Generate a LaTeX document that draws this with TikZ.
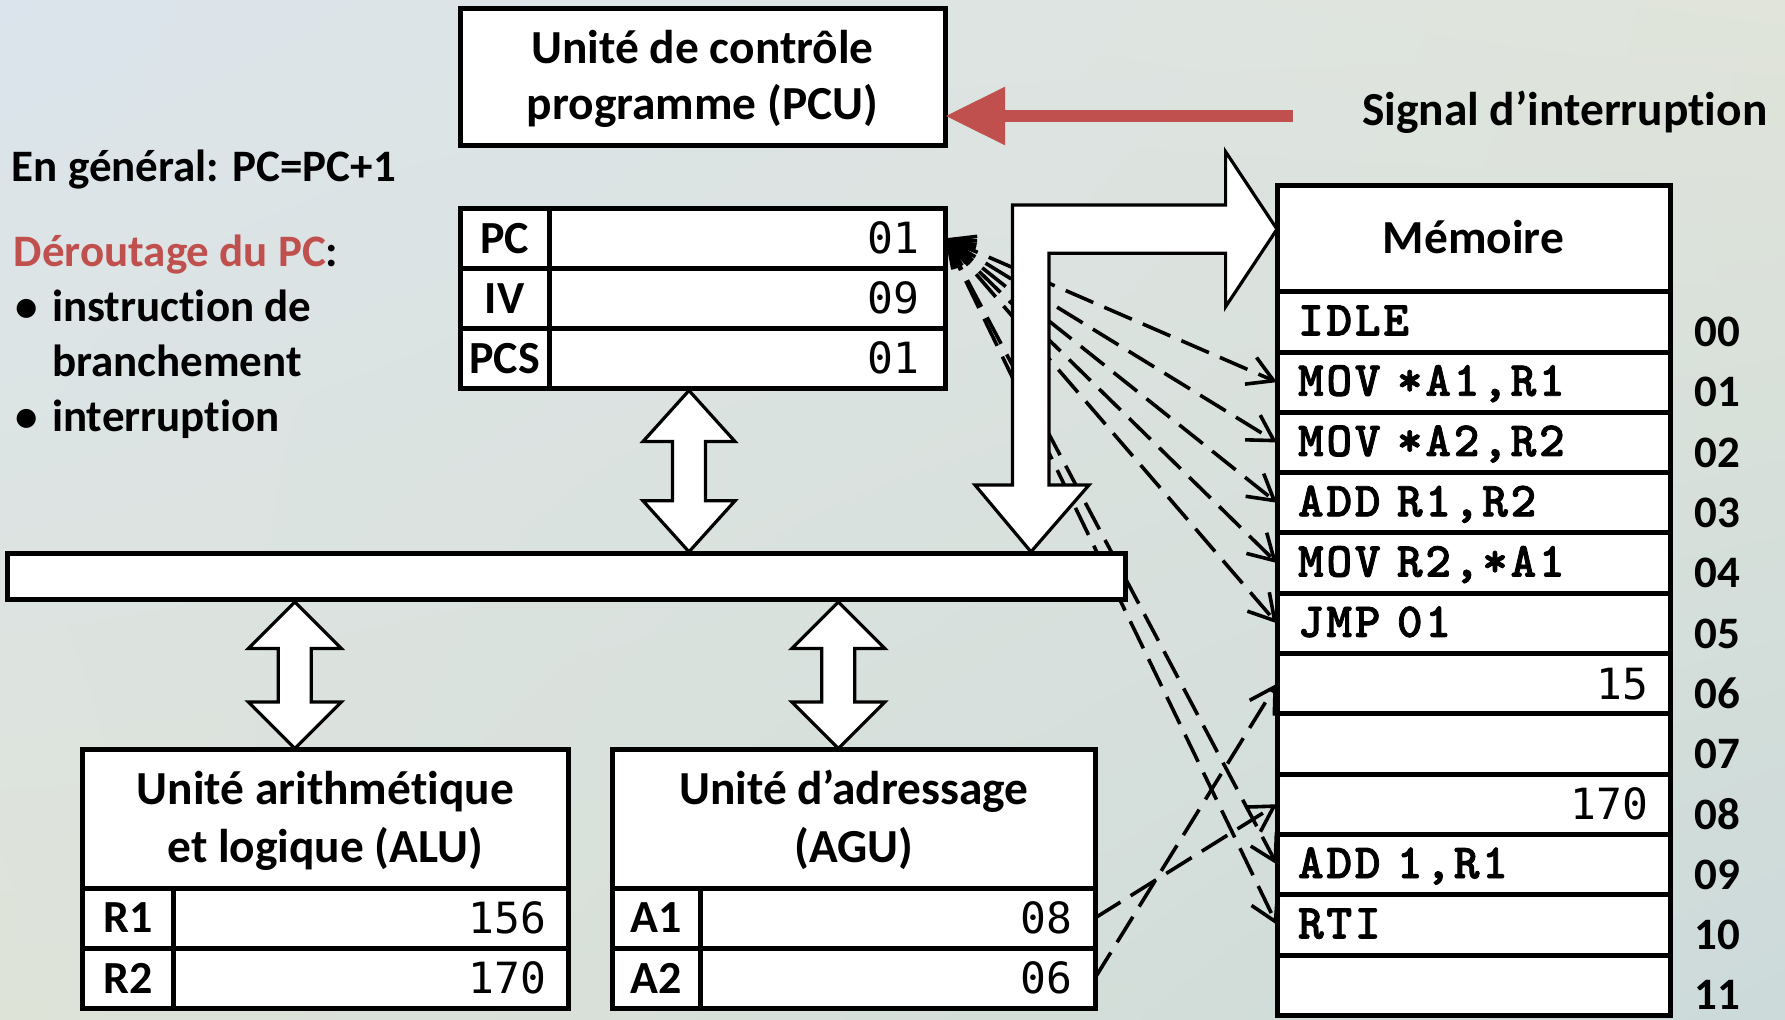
\documentclass[tikz,border=0pt]{standalone}
\usepackage{fontspec}
\setmainfont{Carlito}[Ligatures=NoCommon]
\newfontfamily\numfont{DejaVu Sans Mono}
\IfFontExistsTF{lmmonolt10-bold.otf}
  {\newfontfamily\memfont{lmmonolt10-bold.otf}[LetterSpace=5.5,FakeBold=1.6]}
  {\newfontfamily\memfont{Liberation Mono}[LetterSpace=0,FakeBold=1.5]}
\usetikzlibrary{arrows.meta,shadings}
\pgfdeclarelayer{back}
\pgfdeclarelayer{mid}
\pgfsetlayers{back,mid,main}
\definecolor{sigred}{HTML}{C0504D}
\definecolor{bgA}{HTML}{DBE4EC}
\definecolor{bgB}{HTML}{E0E4DA}
\definecolor{bgC}{HTML}{DEE3D8}
\definecolor{bgD}{HTML}{CCDADA}
% vertical double-headed fat arrow: x, ytop, ybottom, head half width, shaft half width, head length
\newcommand\vdbl[6]{%
  \draw[fatarrow] (#1,#2) -- ({#1+#4},{#2+#6}) -- ({#1+#5},{#2+#6}) -- ({#1+#5},{#3-#6})
    -- ({#1+#4},{#3-#6}) -- (#1,#3) -- ({#1-#4},{#3-#6}) -- ({#1-#5},{#3-#6})
    -- ({#1-#5},{#2+#6}) -- ({#1-#4},{#2+#6}) -- cycle;}
\begin{document}
\begin{tikzpicture}[x=0.5pt,y=-0.5pt,
  >={Straight Barb[length=12.5pt,width=14.5pt]},
  box/.style={draw, line width=2.5pt, fill=white, inner sep=0pt, outer sep=0pt},
  title/.style={font=\fontsize{23.7}{28}\selectfont\bfseries, inner sep=0pt},
  lt/.style={font=\fontsize{22.5}{27}\selectfont\bfseries, inner sep=0pt, anchor=base west},
  reglab/.style={font=\fontsize{23}{27}\selectfont\bfseries},
  rowlab/.style={font=\fontsize{22.5}{27}\selectfont\bfseries, inner sep=0pt, anchor=base},
  mrow/.style={box, minimum width=196.5pt, minimum height=30.15pt},
  mtxt/.style={mrow, font=\fontsize{24.5}{28}\selectfont\memfont, text width=175.5pt, align=left, text height=13.5pt, text depth=0pt},
  mnum/.style={mrow, font=\fontsize{21.5}{25}\selectfont\numfont, text width=174.5pt, align=right},
  rval/.style={box, minimum height=30pt, font=\fontsize{21.5}{25}\selectfont\numfont, align=right},
  rlab/.style={box, minimum height=30pt, reglab},
  fatarrow/.style={draw, fill=white, line width=1.6pt, line join=miter},
  sig/.style={draw=sigred, line width=6.15pt, -{Triangle[length=30pt,width=27.5pt]}, sigred},
  ptr/.style={line width=1.8pt, dash pattern=on 15pt off 6pt, <->},
  ptrone/.style={line width=1.8pt, dash pattern=on 15pt off 6pt, ->}]

\begin{pgfonlayer}{back}
\shade[upper left=bgA, upper right=bgB, lower left=bgC, lower right=bgD] (0,0) rectangle (1785,1019);
\end{pgfonlayer}
\useasboundingbox (0,0) rectangle (1785,1019);

% Program control unit
\node[box, minimum width=242.5pt, minimum height=68.35pt] (pcu) at (702.6,76.65) {};
\node[title, anchor=base] (pcua) at (702.6,63.3) {Unité de contrôle};
\node[title, anchor=base] (pcub) at (702.6,119.3) {programme (PCU)};

% interrupt signal
\node[title, anchor=base west] (sigtxt) at (1361.7,125) {Signal d’interruption};
\coordinate (sigtail) at (1293.3,116);
\draw[sig] (sigtail) -- (sigtail -| pcu.east);

% left text
\node[lt] (t1) at (11.5,181.7) {En général: PC=PC+1};
\node[lt] (t2) at (13.4,266.7) {\textcolor{sigred}{Déroutage du PC}:};
\node[lt] (b1) at (15,321.7) {•};
\node[lt] (t3) at (51.7,321.7) {instruction de};
\node[lt] (t4) at (51.7,376.7) {branchement};
\node[lt] (b2) at (15,431.7) {•};
\node[lt] (t5) at (51.7,431.7) {interruption};

% PC registers
\node[rlab, minimum width=44.5pt] (pcL) at (504.6,238.3) {PC};
\node[rval, minimum width=198.1pt, text width=172.1pt] (pcV) at (747.1,238.3) {01};
\node[rlab, minimum width=44.5pt] (ivL) at (504.6,298.3) {IV};
\node[rval, minimum width=198.1pt, text width=172.1pt] (ivV) at (747.1,298.3) {09};
\node[rlab, minimum width=44.5pt] (pcsL) at (504.6,358.3) {PCS};
\node[rval, minimum width=198.1pt, text width=172.1pt] (pcsV) at (747.1,358.3) {01};

% bus
\node[box, minimum width=559.25pt, minimum height=22.9pt] (bus) at (566.55,576.6) {};

% ALU
\node[box, minimum width=243.15pt, minimum height=69.35pt] (alu) at (325.25,818.65) {};
\node[title, anchor=base] (alua) at (325.25,804) {Unité arithmétique};
\node[title, anchor=base] (alub) at (325.25,862) {et logique (ALU)};
\node[rlab, minimum width=45.85pt] (r1L) at (127.95,918) {R1};
\node[rval, minimum width=197.3pt, text width=175.3pt] (r1V) at (371.1,918) {156};
\node[rlab, minimum width=45.85pt] (r2L) at (127.95,978) {R2};
\node[rval, minimum width=197.3pt, text width=175.3pt] (r2V) at (371.1,978) {170};

% AGU
\node[box, minimum width=241.3pt, minimum height=69.35pt] (agu) at (853.7,818.65) {};
\node[title, anchor=base] (agua) at (853.7,804) {Unité d’adressage};
\node[title, anchor=base] (agub) at (853.7,862) {(AGU)};
\node[rlab, minimum width=44pt] (a1L) at (656.4,918) {A1};
\node[rval, minimum width=197.3pt, text width=174.5pt] (a1V) at (897.7,918) {08};
\node[rlab, minimum width=44pt] (a2L) at (656.4,978) {A2};
\node[rval, minimum width=197.3pt, text width=174.5pt] (a2V) at (897.7,978) {06};

% Memory
\node[box, minimum width=196.5pt, minimum height=53.35pt] (mem) at (1473.5,238.35) {};
\node[title, anchor=base] (memt) at (1473.5,253.3) {Mémoire};
\node[mtxt] (m00) at (1473.5,321.85) {IDLE};
\node[mtxt] (m01) at (1473.5,382.15) {MOV *A1,R1};
\node[mtxt] (m02) at (1473.5,442.45) {MOV *A2,R2};
\node[mtxt] (m03) at (1473.5,502.75) {ADD R1,R2};
\node[mtxt] (m04) at (1473.5,563.05) {MOV R2,*A1};
\node[mtxt] (m05) at (1473.5,623.35) {JMP 01};
\node[mnum] (m06) at (1473.5,683.65) {15};
\node[mrow] (m07) at (1473.5,743.95) {};
\node[mnum] (m08) at (1473.5,804.25) {170};
\node[mtxt] (m09) at (1473.5,864.55) {ADD 1,R1};
\node[mtxt] (m10) at (1473.5,924.85) {RTI};
\node[mrow] (m11) at (1473.5,985.15) {};
\foreach \i/\yb in {00/346.65,01/406.95,02/467.25,03/527.55,04/587.85,05/648.15,06/708.45,07/768.75,08/829.05,09/889.35,10/949.65,11/1009.95}
  \node[rowlab] (lab\i) at (1717,\yb) {\i};

% big L-shaped arrow between memory and bus
\draw[fatarrow] (1031,551.8) -- (1089,485) -- (1049,485) -- (1049,253.3) -- (1225.6,253.3)
  -- (1225.6,306.7) -- (1277,229.2) -- (1225.6,151.7) -- (1225.6,205) -- (1012.5,205)
  -- (1012.5,485) -- (975,485) -- cycle;

% double arrows to the bus
\vdbl{689}{390.5}{551.8}{46}{16.5}{51}
\vdbl{294.8}{602}{748.5}{46.5}{16.5}{46.5}
\vdbl{838.3}{602}{748.5}{46.5}{16.5}{46.5}

% dashed pointers
\begin{pgfonlayer}{mid}
\foreach \r in {01,02,03,04,05,09,10}
  \draw[ptr] (pcV.east) -- (m\r.west);
\draw[ptrone] (a1V.east) -- (m08.west);
\draw[ptrone] (a2V.east) -- (m06.west);
\end{pgfonlayer}
\end{tikzpicture}
\end{document}
